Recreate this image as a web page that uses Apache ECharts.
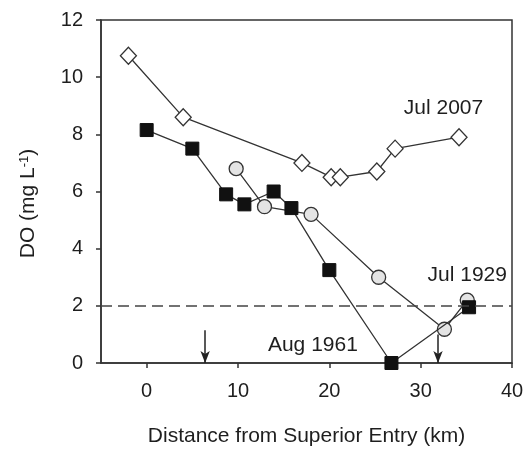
<!DOCTYPE html>
<html>
<head>
<meta charset="utf-8">
<script src="https://cdn.jsdelivr.net/npm/echarts@6/dist/echarts.min.js"></script>
<style>
  html, body { margin: 0; padding: 0; background: #fff; }
  #chart { width: 532px; height: 451px; }
</style>
</head>
<body>
<div id="chart"></div>
<script>
// Dissolved oxygen along the river, three survey dates
const distance2007 = [-2, 4, 17, 20.2, 21.2, 25.2, 27.2, 34.2];
const do2007 = [10.75, 8.6, 7.0, 6.5, 6.5, 6.7, 7.5, 7.9];

const distance1961 = [0, 5, 8.7, 10.7, 13.9, 15.85, 20, 26.8, 35.3];
const do1961 = [8.15, 7.5, 5.9, 5.55, 6.0, 5.42, 3.25, 0, 1.95];

const distance1929 = [9.8, 12.9, 18.0, 25.4, 32.6, 35.1];
const do1929 = [6.8, 5.47, 5.2, 3.0, 1.18, 2.2];

const xTicks = [0, 10, 20, 30, 40];
const hypoxiaLimit = 2;
const arrowX = [6.4, 31.9];
const arrowTop = [1.15, 1.0];

// Label positions for the survey dates (distance, DO)
const label2007 = { text: 'Jul 2007', at: [32.5, 8.92] };
const label1929 = { text: 'Jul 1929', at: [35.1, 3.08] };
const label1961 = { text: 'Aug 1961', at: [18.2, 0.63] };

const FONT = '"Liberation Sans", Arial, Helvetica, sans-serif';
const INK = '#1e1e1e';
const LINE = '#333';

const pairs = (xs, ys) => xs.map((x, i) => [x, ys[i]]);

function dateLabel(l) {
  return {
    coord: l.at,
    symbol: 'circle',
    symbolSize: 0,
    label: {
      show: true,
      position: 'inside',
      formatter: l.text,
      color: INK,
      fontFamily: FONT,
      fontSize: 21
    }
  };
}

const chart = echarts.init(document.getElementById('chart'), null, { renderer: 'canvas' });

chart.setOption({
  animation: false,
  backgroundColor: '#fff',
  grid: {
    left: 101, right: 20, top: 20, bottom: 88,
    outerBoundsMode: 'none',
    show: true, borderColor: LINE, borderWidth: 1.5, backgroundColor: 'transparent'
  },
  xAxis: {
    type: 'value',
    min: -5, max: 40,
    name: 'Distance from Superior Entry (km)',
    nameLocation: 'middle',
    nameGap: 63,
    nameTextStyle: { color: INK, fontFamily: FONT, fontSize: 21 },
    axisLine: { show: true, onZero: false, lineStyle: { color: LINE, width: 1.5 } },
    axisTick: { show: true, inside: false, length: 5, customValues: xTicks, lineStyle: { color: LINE, width: 1.5 } },
    axisLabel: { customValues: xTicks, color: INK, fontFamily: FONT, fontSize: 20, margin: 18 },
    splitLine: { show: false }
  },
  yAxis: {
    type: 'value',
    min: 0, max: 12, interval: 2,
    name: '{t|DO (mg L}{sup|-1}{t|)}',
    nameLocation: 'middle',
    nameGap: 62,
    nameTextStyle: {
      color: INK, fontFamily: FONT, fontSize: 21,
      padding: [0, 24, 0, 0],
      rich: {
        t: { fontSize: 21, fontFamily: FONT, color: INK },
        sup: { fontSize: 13, fontFamily: FONT, color: INK, verticalAlign: 'top', padding: [0, 0, 8, 0] }
      }
    },
    axisLine: { show: true, onZero: false, lineStyle: { color: LINE, width: 1.5 } },
    axisTick: { show: true, inside: false, length: 5, lineStyle: { color: LINE, width: 1.5 } },
    axisLabel: { color: INK, fontFamily: FONT, fontSize: 20, margin: 18 },
    splitLine: { show: false }
  },
  series: [
    {
      name: 'Jul 1929',
      type: 'line',
      data: pairs(distance1929, do1929),
      symbol: 'circle',
      symbolSize: 14,
      lineStyle: { color: LINE, width: 1.3 },
      itemStyle: { color: '#e4e4e4', borderColor: LINE, borderWidth: 1.3 },
      markPoint: { data: [dateLabel(label1929)] },
      z: 2
    },
    {
      name: 'Aug 1961',
      type: 'line',
      data: pairs(distance1961, do1961),
      symbol: 'rect',
      symbolSize: 13,
      lineStyle: { color: LINE, width: 1.3 },
      itemStyle: { color: '#111', borderColor: '#111', borderWidth: 1 },
      markPoint: { data: [dateLabel(label1961)] },
      markLine: {
        silent: true,
        symbol: 'none',
        label: { show: false },
        lineStyle: { color: '#444', type: [11, 6], width: 1.5 },
        data: [{ yAxis: hypoxiaLimit }]
      },
      z: 3
    },
    {
      name: 'Jul 2007',
      type: 'line',
      data: pairs(distance2007, do2007),
      symbol: 'diamond',
      symbolSize: [16, 17],
      lineStyle: { color: LINE, width: 1.3 },
      itemStyle: { color: '#fff', borderColor: LINE, borderWidth: 1.3 },
      markPoint: { data: [dateLabel(label2007)] },
      z: 4
    },
    {
      name: 'stations',
      type: 'line',
      data: [],
      markLine: {
        silent: true,
        symbol: ['none', 'arrow'],
        symbolSize: [7, 12],
        label: { show: false },
        lineStyle: { color: '#222', type: 'solid', width: 1.5 },
        itemStyle: { color: '#222' },
        data: arrowX.map((x, i) => [{ coord: [x, arrowTop[i]] }, { coord: [x, 0] }])
      },
      z: 5
    }
  ]
});
</script>
</body>
</html>
